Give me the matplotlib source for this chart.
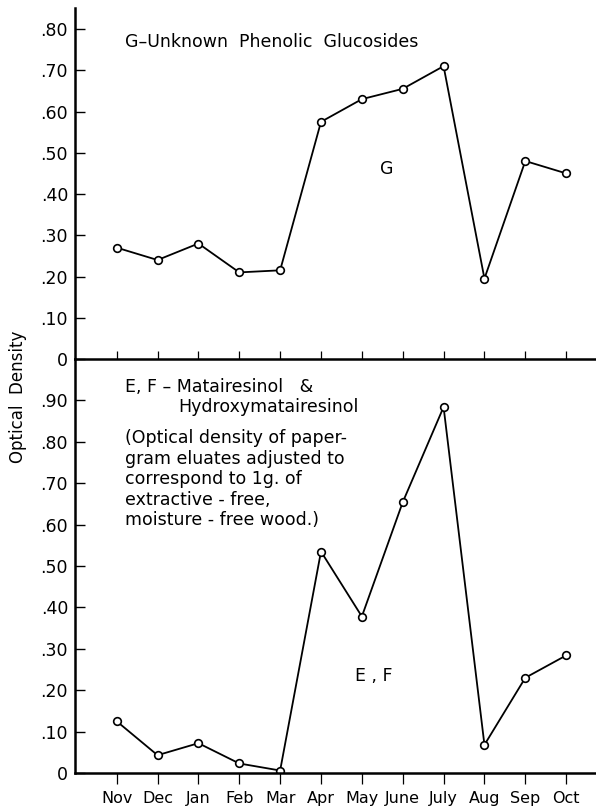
import matplotlib
matplotlib.use("Agg")
import matplotlib.pyplot as plt

months = ["Nov", "Dec", "Jan", "Feb", "Mar", "Apr", "May", "June", "July", "Aug", "Sep", "Oct"]
glucosides_g = [0.27, 0.24, 0.28, 0.21, 0.215, 0.575, 0.63, 0.655, 0.71, 0.195, 0.48, 0.45]
lignans_ef = [0.125, 0.043, 0.072, 0.023, 0.006, 0.535, 0.378, 0.654, 0.884, 0.068, 0.23, 0.284]

upper_ticks = [0, 0.1, 0.2, 0.3, 0.4, 0.5, 0.6, 0.7, 0.8]
upper_labels = ["0", ".10", ".20", ".30", ".40", ".50", ".60", ".70", ".80"]
lower_ticks = [0, 0.1, 0.2, 0.3, 0.4, 0.5, 0.6, 0.7, 0.8, 0.9]
lower_labels = ["0", ".10", ".20", ".30", ".40", ".50", ".60", ".70", ".80", ".90"]

plt.rcParams["font.family"] = ["DejaVu Sans"]
W, H = 596, 811
fig = plt.figure(figsize=(W / 100, H / 100), dpi=100)

left = 75 / W
ax_top = fig.add_axes([left, 1 - 359 / H, 1 - left, (359 - 8) / H])
ax_bot = fig.add_axes([left, 1 - 773 / H, 1 - left, (773 - 359) / H])

x = list(range(len(months)))
for ax in (ax_top, ax_bot):
    for s in ("top", "right"):
        ax.spines[s].set_visible(False)
    for s in ("left", "bottom"):
        ax.spines[s].set_linewidth(1.8)
    ax.set_xlim(-1.02, 11.73)
    ax.tick_params(axis="y", direction="in", length=7, width=1.0, labelsize=12.5, pad=5)
    ax.set_facecolor("none")

line_kw = dict(color="black", lw=1.3, marker="o", ms=5.5, mfc="white", mec="black", mew=1.2)

ax_top.plot(x, glucosides_g, **line_kw)
ax_top.set_ylim(0, 0.851)
ax_top.set_yticks(upper_ticks)
ax_top.set_yticklabels(upper_labels)
ax_top.set_xticks(x)
ax_top.set_xticklabels([])
ax_top.tick_params(axis="x", direction="in", length=6, width=0.9)
ax_top.text(0.2, 0.768, "G\u2013Unknown  Phenolic  Glucosides", fontsize=12.5, va="center", ha="left")
ax_top.text(6.6, 0.46, "G", fontsize=12.5, ha="center", va="center")

ax_bot.plot(x, lignans_ef, **line_kw)
ax_bot.set_ylim(0, 1.0)
ax_bot.set_yticks(lower_ticks)
ax_bot.set_yticklabels(lower_labels)
ax_bot.set_xticks(x)
ax_bot.set_xticklabels(months, fontsize=11.5)
ax_bot.tick_params(axis="x", direction="out", length=8, width=0.9, pad=5)

ax_bot.text(0.2, 0.932, "E, F \u2013 Matairesinol   &", fontsize=12.5, ha="left", va="center")
ax_bot.text(1.5, 0.883, "Hydroxymatairesinol", fontsize=12.5, ha="left", va="center")
note = ("(Optical density of paper-\n"
        "gram eluates adjusted to\n"
        "correspond to 1g. of\n"
        "extractive - free,\n"
        "moisture - free wood.)")
ax_bot.text(0.2, 0.83, note, fontsize=12.5, ha="left", va="top", linespacing=1.17)
ax_bot.text(6.3, 0.235, "E , F", fontsize=12.5, ha="center", va="center")

fig.text(18 / W, 1 - 397 / H, "Optical  Density", rotation=90, fontsize=12,
         ha="center", va="center")

fig.savefig("out.png", dpi=100)
